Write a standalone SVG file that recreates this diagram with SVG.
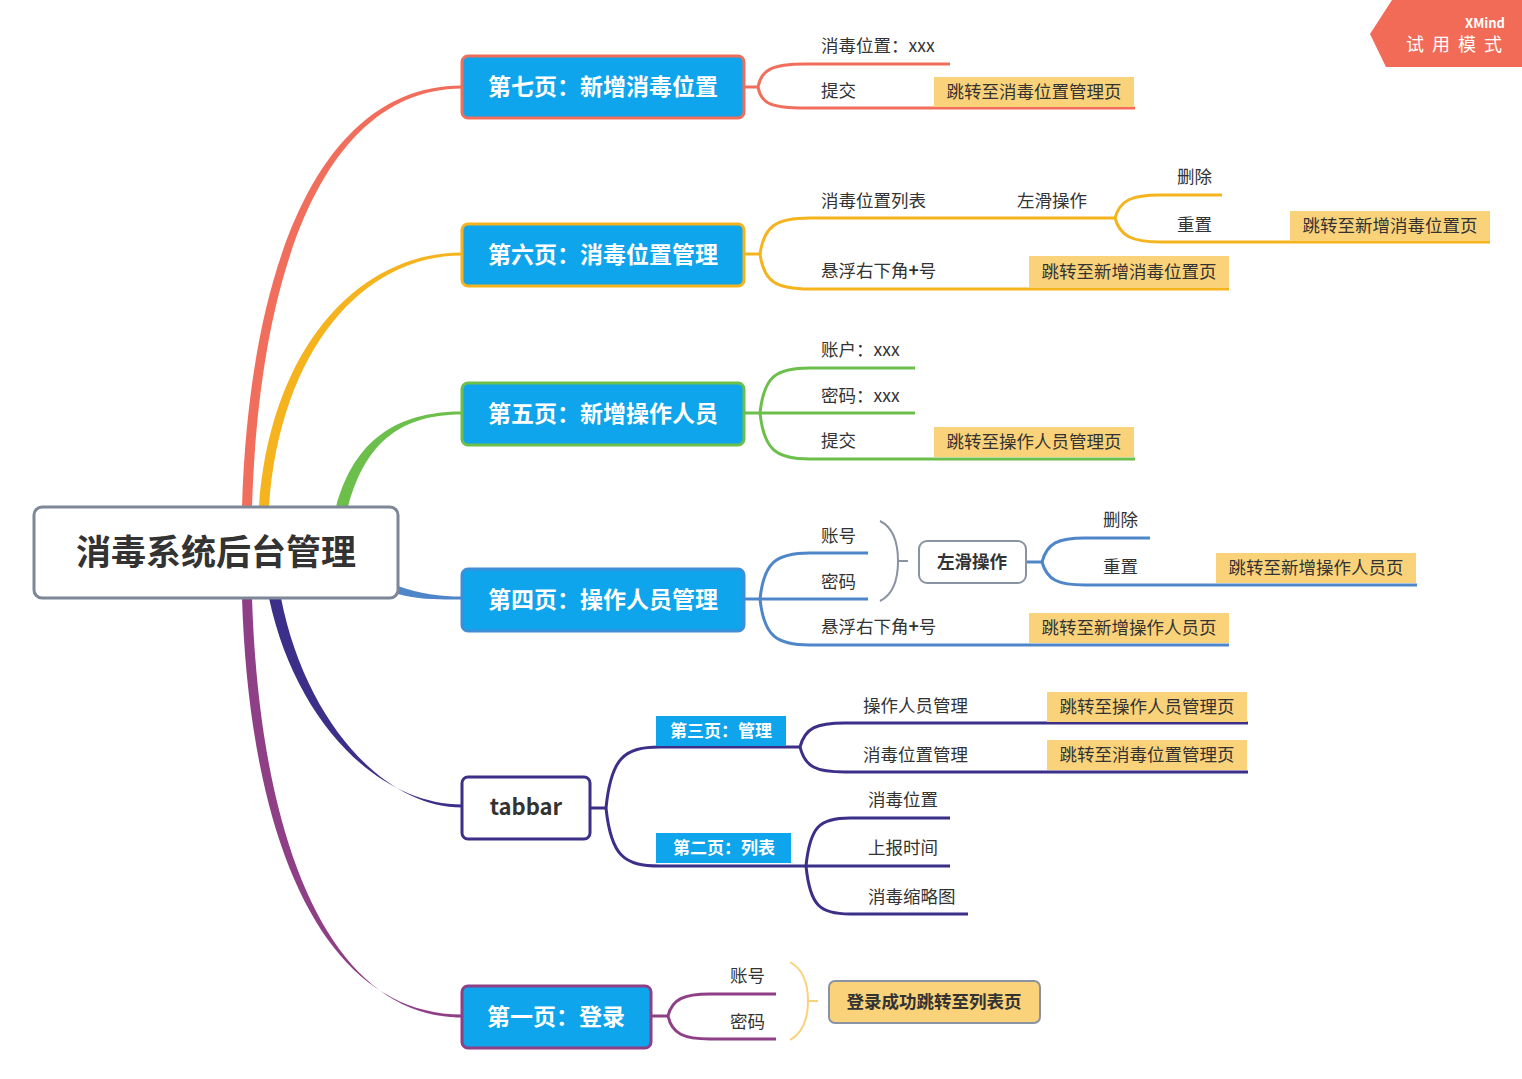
<svg xmlns="http://www.w3.org/2000/svg" width="1522" height="1079" viewBox="0 0 1522 1079">
<style>
text{font-family:"Noto Sans CJK SC","Noto Sans",sans-serif;fill:#333}
.lbl{font-size:17.5px}
.pg{font-size:23px;font-weight:bold;fill:#fff}
.sub{font-size:17px;font-weight:bold;fill:#fff}
.co{fill:#F9D27A}
.ln{fill:none;stroke-width:3;stroke-linecap:butt}
.red{stroke:#F26E5C}.org{stroke:#F5B41E}.grn{stroke:#6CBF4B}.blu{stroke:#4F86CA}.ind{stroke:#3B2F8A}.pur{stroke:#8E3F86}
.pgbox{fill:#0EA5EC;stroke-width:3}
</style>
<rect width="1522" height="1079" fill="#fff"/>
<g id="connectors">
<path d="M242,507 C250,250 327,85 462,85.5 L462,88.5 C333,89 260,250 252,507 Z" fill="#F26E5C"/>
<path d="M259,507 C270,350 357,252.5 462,252.5 L462,255.5 C363,255.5 280,350 269,507 Z" fill="#F5B41E"/>
<path d="M336,507 C354,440 397,411.5 462,411.5 L462,414.5 C403,414.5 366,440 348,507 Z" fill="#6CBF4B"/>
<path d="M398,586 C420,594 440,596.5 462,596.5 L462,599.5 C440,599.5 420,600 398,594 Z" fill="#4F86CA"/>
<path d="M269,598 C295,720 377,804.5 462,804.5 L462,807.5 C383,807.5 305,720 281,598 Z" fill="#3B2F8A"/>
<path d="M242,598 C250,850 327,1014.5 462,1014.5 L462,1017.5 C333,1017.5 260,850 252,598 Z" fill="#8E3F86"/>
<g class="ln red">
<path d="M744,87 L758,87"/>
<path d="M758,87 C761,70 772,64 805,64 L950,64"/>
<path d="M758,87 C761,104 772,108 805,108 L1135,108"/>
</g>
<g class="ln org">
<path d="M744,254 L760,254"/>
<path d="M760,254 C764,226 776,218 810,218 L1115,218"/>
<path d="M760,254 C764,282 776,289 810,289 L1229,289"/>
<path d="M1115,218 C1120,200 1132,195 1160,195 L1222,195"/>
<path d="M1115,218 C1120,236 1132,242 1160,242 L1490,242"/>
</g>
<g class="ln grn">
<path d="M744,413 L760,413"/>
<path d="M760,413 C764,376 776,368 810,368 L915,368"/>
<path d="M760,413 L915,413"/>
<path d="M760,413 C764,450 776,459 810,459 L1135,459"/>
</g>
<g class="ln blu">
<path d="M744,599 L760,599"/>
<path d="M760,599 C764,562 776,553 810,553 L868,553"/>
<path d="M760,599 L868,599"/>
<path d="M760,599 C764,636 776,645 810,645 L1229,645"/>
<path d="M1026,562 L1042,562"/>
<path d="M1042,562 C1047,543 1058,538 1085,538 L1150,538"/>
<path d="M1042,562 C1047,580 1058,585 1085,585 L1417,585"/>
</g>
<path d="M880,521 Q898,530 898,561 Q898,592 880,601 M898,561 L908,561" fill="none" stroke="#8A93A3" stroke-width="2"/>
<g class="ln ind">
<path d="M590,808 L606,808"/>
<path d="M606,808 C611,758 624,747 660,747 L800,747"/>
<path d="M606,808 C611,856 624,866 660,866 L806,866"/>
<path d="M800,747 C805,728 816,723 845,723 L1248,723"/>
<path d="M800,747 C805,767 816,772 845,772 L1248,772"/>
<path d="M806,866 C810,826 820,818 850,818 L950,818"/>
<path d="M806,866 L950,866"/>
<path d="M806,866 C810,906 820,914 850,914 L968,914"/>
</g>
<g class="ln pur">
<path d="M651,1016 L668,1016"/>
<path d="M668,1016 C672,999 684,994 710,994 L776,994"/>
<path d="M668,1016 C672,1034 684,1039 710,1039 L776,1039"/>
</g>
<path d="M790,962 Q808,972 808,1001 Q808,1030 790,1040 M808,1001 L818,1001" fill="none" stroke="#F9D27A" stroke-width="2"/>
</g>
<g id="root">
<rect x="34" y="507" width="364" height="91" rx="8" fill="#fff" stroke="#7D8798" stroke-width="3"/>
<text x="216" y="565" text-anchor="middle" font-size="35" font-weight="bold">消毒系统后台管理</text>
</g>
<g id="p7">
<rect class="pgbox" x="462" y="56" width="282" height="62" rx="6" stroke="#F26E5C"/>
<text class="pg" x="603" y="95" text-anchor="middle">第七页：新增消毒位置</text>
<text class="lbl" x="821" y="52">消毒位置：xxx</text>
<text class="lbl" x="821" y="97">提交</text>
<rect class="co" x="934" y="77" width="200" height="30"/>
<text class="lbl" x="1034" y="98" text-anchor="middle">跳转至消毒位置管理页</text>
</g>
<g id="p6">
<rect class="pgbox" x="462" y="224" width="282" height="62" rx="6" stroke="#F5B41E"/>
<text class="pg" x="603" y="263" text-anchor="middle">第六页：消毒位置管理</text>
<text class="lbl" x="821" y="207">消毒位置列表</text>
<text class="lbl" x="1017" y="207">左滑操作</text>
<text class="lbl" x="1177" y="183">删除</text>
<text class="lbl" x="1177" y="231">重置</text>
<rect class="co" x="1290" y="211" width="200" height="30"/>
<text class="lbl" x="1390" y="232" text-anchor="middle">跳转至新增消毒位置页</text>
<text class="lbl" x="821" y="277">悬浮右下角<tspan font-weight="bold">+</tspan>号</text>
<rect class="co" x="1029" y="256" width="200" height="32"/>
<text class="lbl" x="1129" y="278" text-anchor="middle">跳转至新增消毒位置页</text>
</g>
<g id="p5">
<rect class="pgbox" x="462" y="383" width="282" height="62" rx="6" stroke="#6CBF4B"/>
<text class="pg" x="603" y="422" text-anchor="middle">第五页：新增操作人员</text>
<text class="lbl" x="821" y="356">账户：xxx</text>
<text class="lbl" x="821" y="402">密码：xxx</text>
<text class="lbl" x="821" y="447">提交</text>
<rect class="co" x="934" y="427" width="200" height="30"/>
<text class="lbl" x="1034" y="448" text-anchor="middle">跳转至操作人员管理页</text>
</g>
<g id="p4">
<rect class="pgbox" x="462" y="569" width="282" height="62" rx="6" stroke="#3C8FD8"/>
<text class="pg" x="603" y="608" text-anchor="middle">第四页：操作人员管理</text>
<text class="lbl" x="821" y="542">账号</text>
<text class="lbl" x="821" y="588">密码</text>
<text class="lbl" x="821" y="633">悬浮右下角<tspan font-weight="bold">+</tspan>号</text>
<rect class="co" x="1029" y="613" width="200" height="30"/>
<text class="lbl" x="1129" y="634" text-anchor="middle">跳转至新增操作人员页</text>
<rect x="919" y="541" width="107" height="42" rx="8" fill="#fff" stroke="#8A93A3" stroke-width="2"/>
<text x="972" y="568" text-anchor="middle" font-size="17.5" font-weight="bold">左滑操作</text>
<text class="lbl" x="1103" y="526">删除</text>
<text class="lbl" x="1103" y="573">重置</text>
<rect class="co" x="1216" y="553" width="200" height="30"/>
<text class="lbl" x="1316" y="574" text-anchor="middle">跳转至新增操作人员页</text>
</g>
<g id="tabbar">
<rect x="462" y="777" width="128" height="62" rx="6" fill="#fff" stroke="#3B2F8A" stroke-width="3"/>
<text x="526" y="815" text-anchor="middle" font-family="Open Sans, sans-serif" font-size="22" font-weight="600">tabbar</text>
<rect x="656" y="716" width="130" height="30" fill="#0EA5EC"/>
<text class="sub" x="721" y="737" text-anchor="middle">第三页：管理</text>
<rect x="656" y="833" width="135" height="30" fill="#0EA5EC"/>
<text class="sub" x="724" y="854" text-anchor="middle">第二页：列表</text>
<text class="lbl" x="863" y="712">操作人员管理</text>
<rect class="co" x="1047" y="692" width="200" height="30"/>
<text class="lbl" x="1147" y="713" text-anchor="middle">跳转至操作人员管理页</text>
<text class="lbl" x="863" y="761">消毒位置管理</text>
<rect class="co" x="1047" y="740" width="200" height="30"/>
<text class="lbl" x="1147" y="761" text-anchor="middle">跳转至消毒位置管理页</text>
<text class="lbl" x="868" y="806">消毒位置</text>
<text class="lbl" x="868" y="854">上报时间</text>
<text class="lbl" x="868" y="903">消毒缩略图</text>
</g>
<g id="p1">
<rect class="pgbox" x="462" y="986" width="189" height="62" rx="6" stroke="#8E3F86"/>
<text class="pg" x="556" y="1025" text-anchor="middle">第一页：登录</text>
<text class="lbl" x="730" y="982">账号</text>
<text class="lbl" x="730" y="1028">密码</text>
<rect x="829" y="981" width="211" height="42" rx="6" fill="#F9D27A" stroke="#8A93A3" stroke-width="2"/>
<text x="934" y="1008" text-anchor="middle" font-size="17.5" font-weight="bold">登录成功跳转至列表页</text>
</g>
<g id="badge">
<polygon points="1392,0 1522,0 1522,67 1386,67 1370,34" fill="#F26B56"/>
<text x="1505" y="28" text-anchor="end" font-size="13" font-weight="bold" style="fill:#fff">XMind</text>
<text x="1406" y="51" font-size="18" letter-spacing="8" style="fill:#fff">试用模式</text>
</g>
</svg>
